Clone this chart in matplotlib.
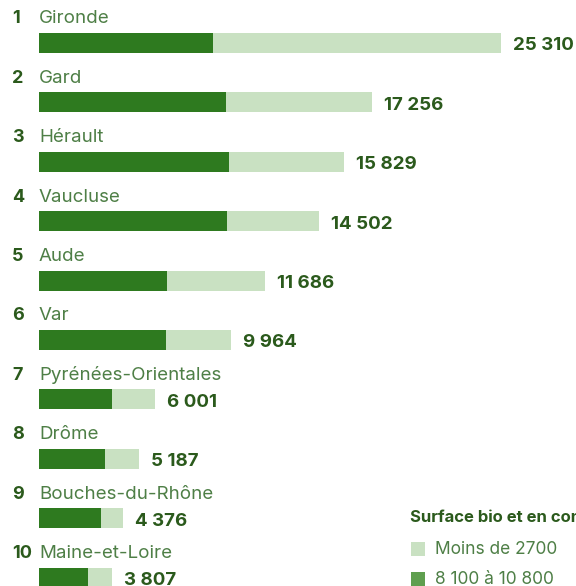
import matplotlib.pyplot as plt
from matplotlib.patches import Rectangle

# Data
names = ['Gironde', 'Gard', 'Hérault', 'Vaucluse', 'Aude', 'Var',
         'Pyrénées-Orientales', 'Drôme', 'Bouches-du-Rhône', 'Maine-et-Loire']
totals = [25310, 17256, 15829, 14502, 11686, 9964, 6001, 5187, 4376, 3807]
dark_part = [9020, 9710, 9845, 9740, 6650, 6600, 3800, 3400, 3200, 2540]
legend_labels = ['Moins de 2700', '8 100 à 10 800']
legend_title = 'Surface bio et en conversion'

# the longest bar is cut short in the original layout
bar_cap = 23920

# Styles
dark = '#2e7a1f'
light = '#c9e1c2'
mid = '#5f9f4f'
value_col = '#2b5a1c'
name_col = '#4e7f46'
plt.rcParams['font.family'] = ['Inter', 'DejaVu Sans']

px = 0.0193      # pixels per hectare
pitch = 59.4     # pixels between rows

fig = plt.figure(figsize=(5.76, 5.86), dpi=100)
ax = fig.add_axes([0, 0, 1, 1])
ax.set_xlim(-39 / px, (576 - 39) / px)
ax.set_ylim((586 - 43) / pitch, -43 / pitch)
ax.axis('off')

rows = range(len(names))
shown = [min(t, bar_cap) for t in totals]
ax.barh(rows, shown, height=20 / pitch, color=light, linewidth=0)
ax.barh(rows, dark_part, height=20 / pitch, color=dark, linewidth=0)

for i in rows:
    ax.text(-27 / px, i - 24 / pitch, str(i + 1), fontsize=13, fontweight='bold',
            color=value_col, ha='left', va='center')
    ax.text(0, i - 24 / pitch, names[i], fontsize=13.5, color=name_col,
            ha='left', va='center')
    lab = f'{totals[i]:,}'.replace(',', ' ')
    ax.text(shown[i] + 12 / px, i + 3 / pitch, lab, fontsize=13.5, fontweight='bold',
            color=value_col, ha='left', va='center')

# legend (cut off at the right edge like the source)
fig.text(410 / 576, 1 - 517 / 586, legend_title, fontsize=12, fontweight='bold',
         color=value_col, ha='left', va='center')
for k, (lab, c) in enumerate(zip(legend_labels, [light, mid])):
    yc = 549 + k * 30
    fig.patches.append(Rectangle((411 / 576, 1 - (yc + 7) / 586), 14 / 576, 14 / 586,
                                 transform=fig.transFigure, color=c, linewidth=0))
    fig.text(435 / 576, 1 - yc / 586, lab, fontsize=12.5, color=name_col,
             ha='left', va='center')

fig.savefig('out.png', dpi=100)
